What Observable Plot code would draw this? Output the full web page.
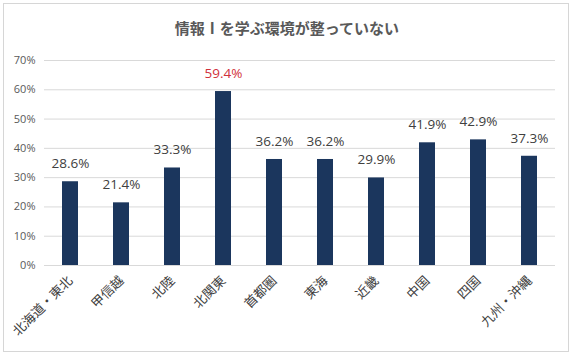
<!DOCTYPE html>
<html><head><meta charset="utf-8">
<script src="https://cdn.jsdelivr.net/npm/d3@7"></script>
<script src="https://cdn.jsdelivr.net/npm/@observablehq/plot@0.6"></script>
<style>
body{margin:0;background:#fff;font-family:"Open Sans","Noto Sans CJK JP",sans-serif;}
#wrap{position:absolute;left:0;top:0;width:574px;height:358px;}
#frame{position:absolute;left:3px;top:3px;width:566px;height:349px;border:1px solid #d6d6d6;box-sizing:border-box;}
#title{position:absolute;left:0;top:17px;width:574px;text-align:center;font-size:15px;font-weight:bold;color:#595959;font-family:"Noto Sans CJK JP",sans-serif;}
#chart{position:absolute;left:0;top:0;}
</style></head>
<body>
<div id="wrap"><div id="frame"></div><div id="title">情報Ⅰを学ぶ環境が整っていない</div><div id="chart"></div></div>
<script>
const regions = ["北海道・東北","甲信越","北陸","北関東","首都圏","東海","近畿","中国","四国","九州・沖縄"];
const values = [28.6,21.4,33.3,59.4,36.2,36.2,29.9,41.9,42.9,37.3];
const highlight = "北関東";
const yTicks = [0,10,20,30,40,50,60,70];
const data = regions.map((r,i)=>({region:r,value:values[i]}));
const plot = Plot.plot({
  width:574, height:358,
  marginTop:60, marginBottom:93, marginLeft:44, marginRight:19,
  style:{fontFamily:'"Open Sans","Noto Sans CJK JP",sans-serif',background:"transparent"},
  x:{domain:regions, paddingInner:0.69, paddingOuter:0.345, label:null},
  y:{domain:[0,70], label:null},
  marks:[
    Plot.gridY(yTicks,{stroke:"#d9d9d9",strokeOpacity:1}),
    Plot.axisY(yTicks,{tickSize:0,tickPadding:9,tickFormat:d=>d+"%",fontSize:11,fill:"#595959",label:null}),
    Plot.axisX({tickSize:0,tickRotate:-45,tickPadding:13,fontSize:13,fill:"#404040",label:null,fontFamily:'"Noto Sans CJK JP",sans-serif'}),
    Plot.barY(data,{x:"region",y:"value",fill:"#1b365d"}),
    Plot.text(data,{x:"region",y:"value",text:d=>d.value.toFixed(1)+"%",dy:-18,fontSize:13.5,
      fill:d=>d.region===highlight?"#d0303a":"#404040"})
  ]
});
document.getElementById("chart").append(plot);
</script>
</body></html>
